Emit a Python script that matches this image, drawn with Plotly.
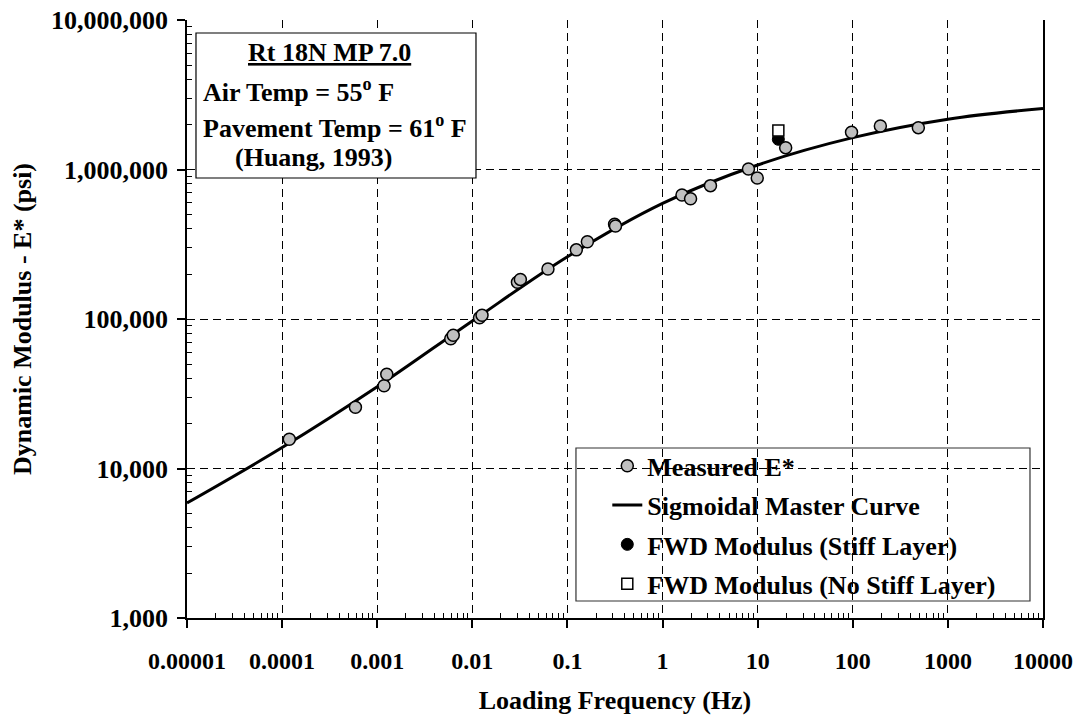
import plotly.graph_objects as go

# ---------------- data ----------------
measured_freq = [1.19e-4, 5.9e-4, 1.18e-3, 1.26e-3, 5.93e-3, 6.3e-3, 0.0119, 0.01265,
                 0.0298, 0.032, 0.0624, 0.124, 0.162, 0.313, 0.32, 1.6, 1.97, 3.19,
                 8.0, 9.9, 19.7, 97, 195, 489]
measured_E = [15700, 25700, 35800, 42700, 73800, 77800, 102000, 106000,
              176000, 184000, 216000, 290000, 329000, 431000, 419000, 675000, 638000, 780000,
              1007000, 877000, 1400000, 1775000, 1955000, 1905000]

curve_freq = [1e-5, 1e-4, 1e-3, 1e-2, 1e-1, 1, 10, 100, 1000, 10000]
curve_E = [5880, 13800, 35200, 97000, 261000, 594000, 1072000, 1633000, 2170000, 2560000]

fwd_freq = [16.5]
fwd_stiff_E = [1592000]
fwd_nostiff_E = [1820000]

x_tick_vals = [1e-5, 1e-4, 1e-3, 1e-2, 1e-1, 1, 10, 100, 1000, 10000]
x_tick_text = ["0.00001", "0.0001", "0.001", "0.01", "0.1", "1", "10", "100", "1000", "10000"]
y_tick_vals = [1e3, 1e4, 1e5, 1e6, 1e7]
y_tick_text = ["1,000", "10,000", "100,000", "1,000,000", "10,000,000"]

# minor tick positions (2..9 within every decade)
x_minor = [k * 10.0 ** e for e in range(-5, 4) for k in range(2, 10)]
y_minor = [k * 10.0 ** e for e in range(3, 7) for k in range(2, 10)]

FONT = "Liberation Serif"
BIG = 26

fig = go.Figure()

# drawing order: curve, FWD points, measured points on top
fig.add_trace(go.Scatter(
    x=curve_freq, y=curve_E, mode="lines", name="Sigmoidal Master Curve",
    line=dict(color="black", width=3, shape="spline", smoothing=1.0),
    legendgroup="g2", legendrank=2,
))
fig.add_trace(go.Scatter(
    x=fwd_freq, y=fwd_stiff_E, mode="markers", name="FWD Modulus (Stiff Layer)",
    marker=dict(symbol="circle", size=12, color="black", line=dict(color="black", width=1)),
    legendgroup="g3", legendrank=3,
))
fig.add_trace(go.Scatter(
    x=fwd_freq, y=fwd_nostiff_E, mode="markers", name="FWD Modulus (No Stiff Layer)",
    marker=dict(symbol="square", size=11, color="white", line=dict(color="black", width=1.5)),
    legendgroup="g4", legendrank=4,
))
fig.add_trace(go.Scatter(
    x=measured_freq, y=measured_E, mode="markers", name="Measured E*",
    marker=dict(symbol="circle", size=12, color="#C0C0C0", line=dict(color="black", width=1.5)),
    legendgroup="g1", legendrank=1,
))

axis_common = dict(
    type="log", showline=True, linecolor="black", linewidth=1.5,
    showgrid=True, gridcolor="black", gridwidth=1, griddash="8px,5px",
    ticks="outside", ticklen=8, tickwidth=1.5, tickcolor="black",
    zeroline=False, ticklabeloverflow="allow",
)

fig.update_xaxes(
    **axis_common,
    range=[-5, 4],
    tickmode="array", tickvals=x_tick_vals, ticktext=x_tick_text,
    tickfont=dict(family=FONT, size=24, color="black", weight="bold"),
    minor=dict(tickmode="array", tickvals=x_minor, ticks="inside", ticklen=5,
               tickwidth=1, tickcolor="black", showgrid=False),
    ticklabelstandoff=12,
    title=dict(text="Loading Frequency (Hz)", standoff=18,
               font=dict(family=FONT, size=BIG, color="black", weight="bold")),
)
fig.update_yaxes(
    **axis_common,
    range=[3, 7], mirror=True,
    tickmode="array", tickvals=y_tick_vals, ticktext=y_tick_text,
    tickfont=dict(family=FONT, size=26, color="black", weight="bold"),
    minor=dict(tickmode="array", tickvals=y_minor, ticks="inside", ticklen=5,
               tickwidth=1, tickcolor="black", showgrid=False),
    ticklabelstandoff=4,
    title=dict(text="Dynamic Modulus - E* (psi)", standoff=26,
               font=dict(family=FONT, size=BIG, color="black", weight="bold")),
)

# page has an 8px body margin; plot area lands at x 187..1043, y 20..618 px
fig.update_layout(
    width=1075, height=711,
    margin=dict(l=179, r=40, t=12, b=101, autoexpand=False),
    paper_bgcolor="white", plot_bgcolor="white",
    font=dict(family=FONT, size=BIG, color="black", weight="bold"),
    showlegend=True,
    legend=dict(
        x=0.491, y=0.2937, xanchor="left", yanchor="top",
        bgcolor="rgba(0,0,0,0)", borderwidth=0,
        font=dict(family=FONT, size=BIG, color="black", weight="bold"),
        traceorder="grouped", tracegroupgap=2.5,
    ),
)

# legend frame (opaque, covers gridlines)
fig.add_shape(type="rect", xref="paper", yref="paper",
              x0=0.4544, x1=0.9848, y0=0.0284, y1=0.2843,
              line=dict(color="#333333", width=1.2), fillcolor="white", layer="between")

# info box
fig.add_shape(type="rect", xref="paper", yref="paper",
              x0=0.0105, x1=0.3376, y0=0.7358, y1=0.9783,
              line=dict(color="black", width=1.2), fillcolor="white", layer="above")

info_font = dict(family=FONT, size=BIG, color="black", weight="bold")
fig.add_annotation(xref="paper", yref="paper", x=0.1659, y=0.9453, xanchor="center",
                   yanchor="middle", text="<u>Rt 18N MP 7.0</u>", showarrow=False, font=info_font)
fig.add_annotation(xref="paper", yref="paper", x=0.016, y=0.8824, xanchor="left",
                   yanchor="middle", text="Air Temp = 55<sup>o</sup> F", showarrow=False, font=info_font)
fig.add_annotation(xref="paper", yref="paper", x=0.016, y=0.8227, xanchor="left",
                   yanchor="middle", text="Pavement Temp = 61<sup>o</sup> F", showarrow=False, font=info_font)
fig.add_annotation(xref="paper", yref="paper", x=0.0535, y=0.7697, xanchor="left",
                   yanchor="middle", text="(Huang, 1993)", showarrow=False, font=info_font)

fig.write_html("out.html")
